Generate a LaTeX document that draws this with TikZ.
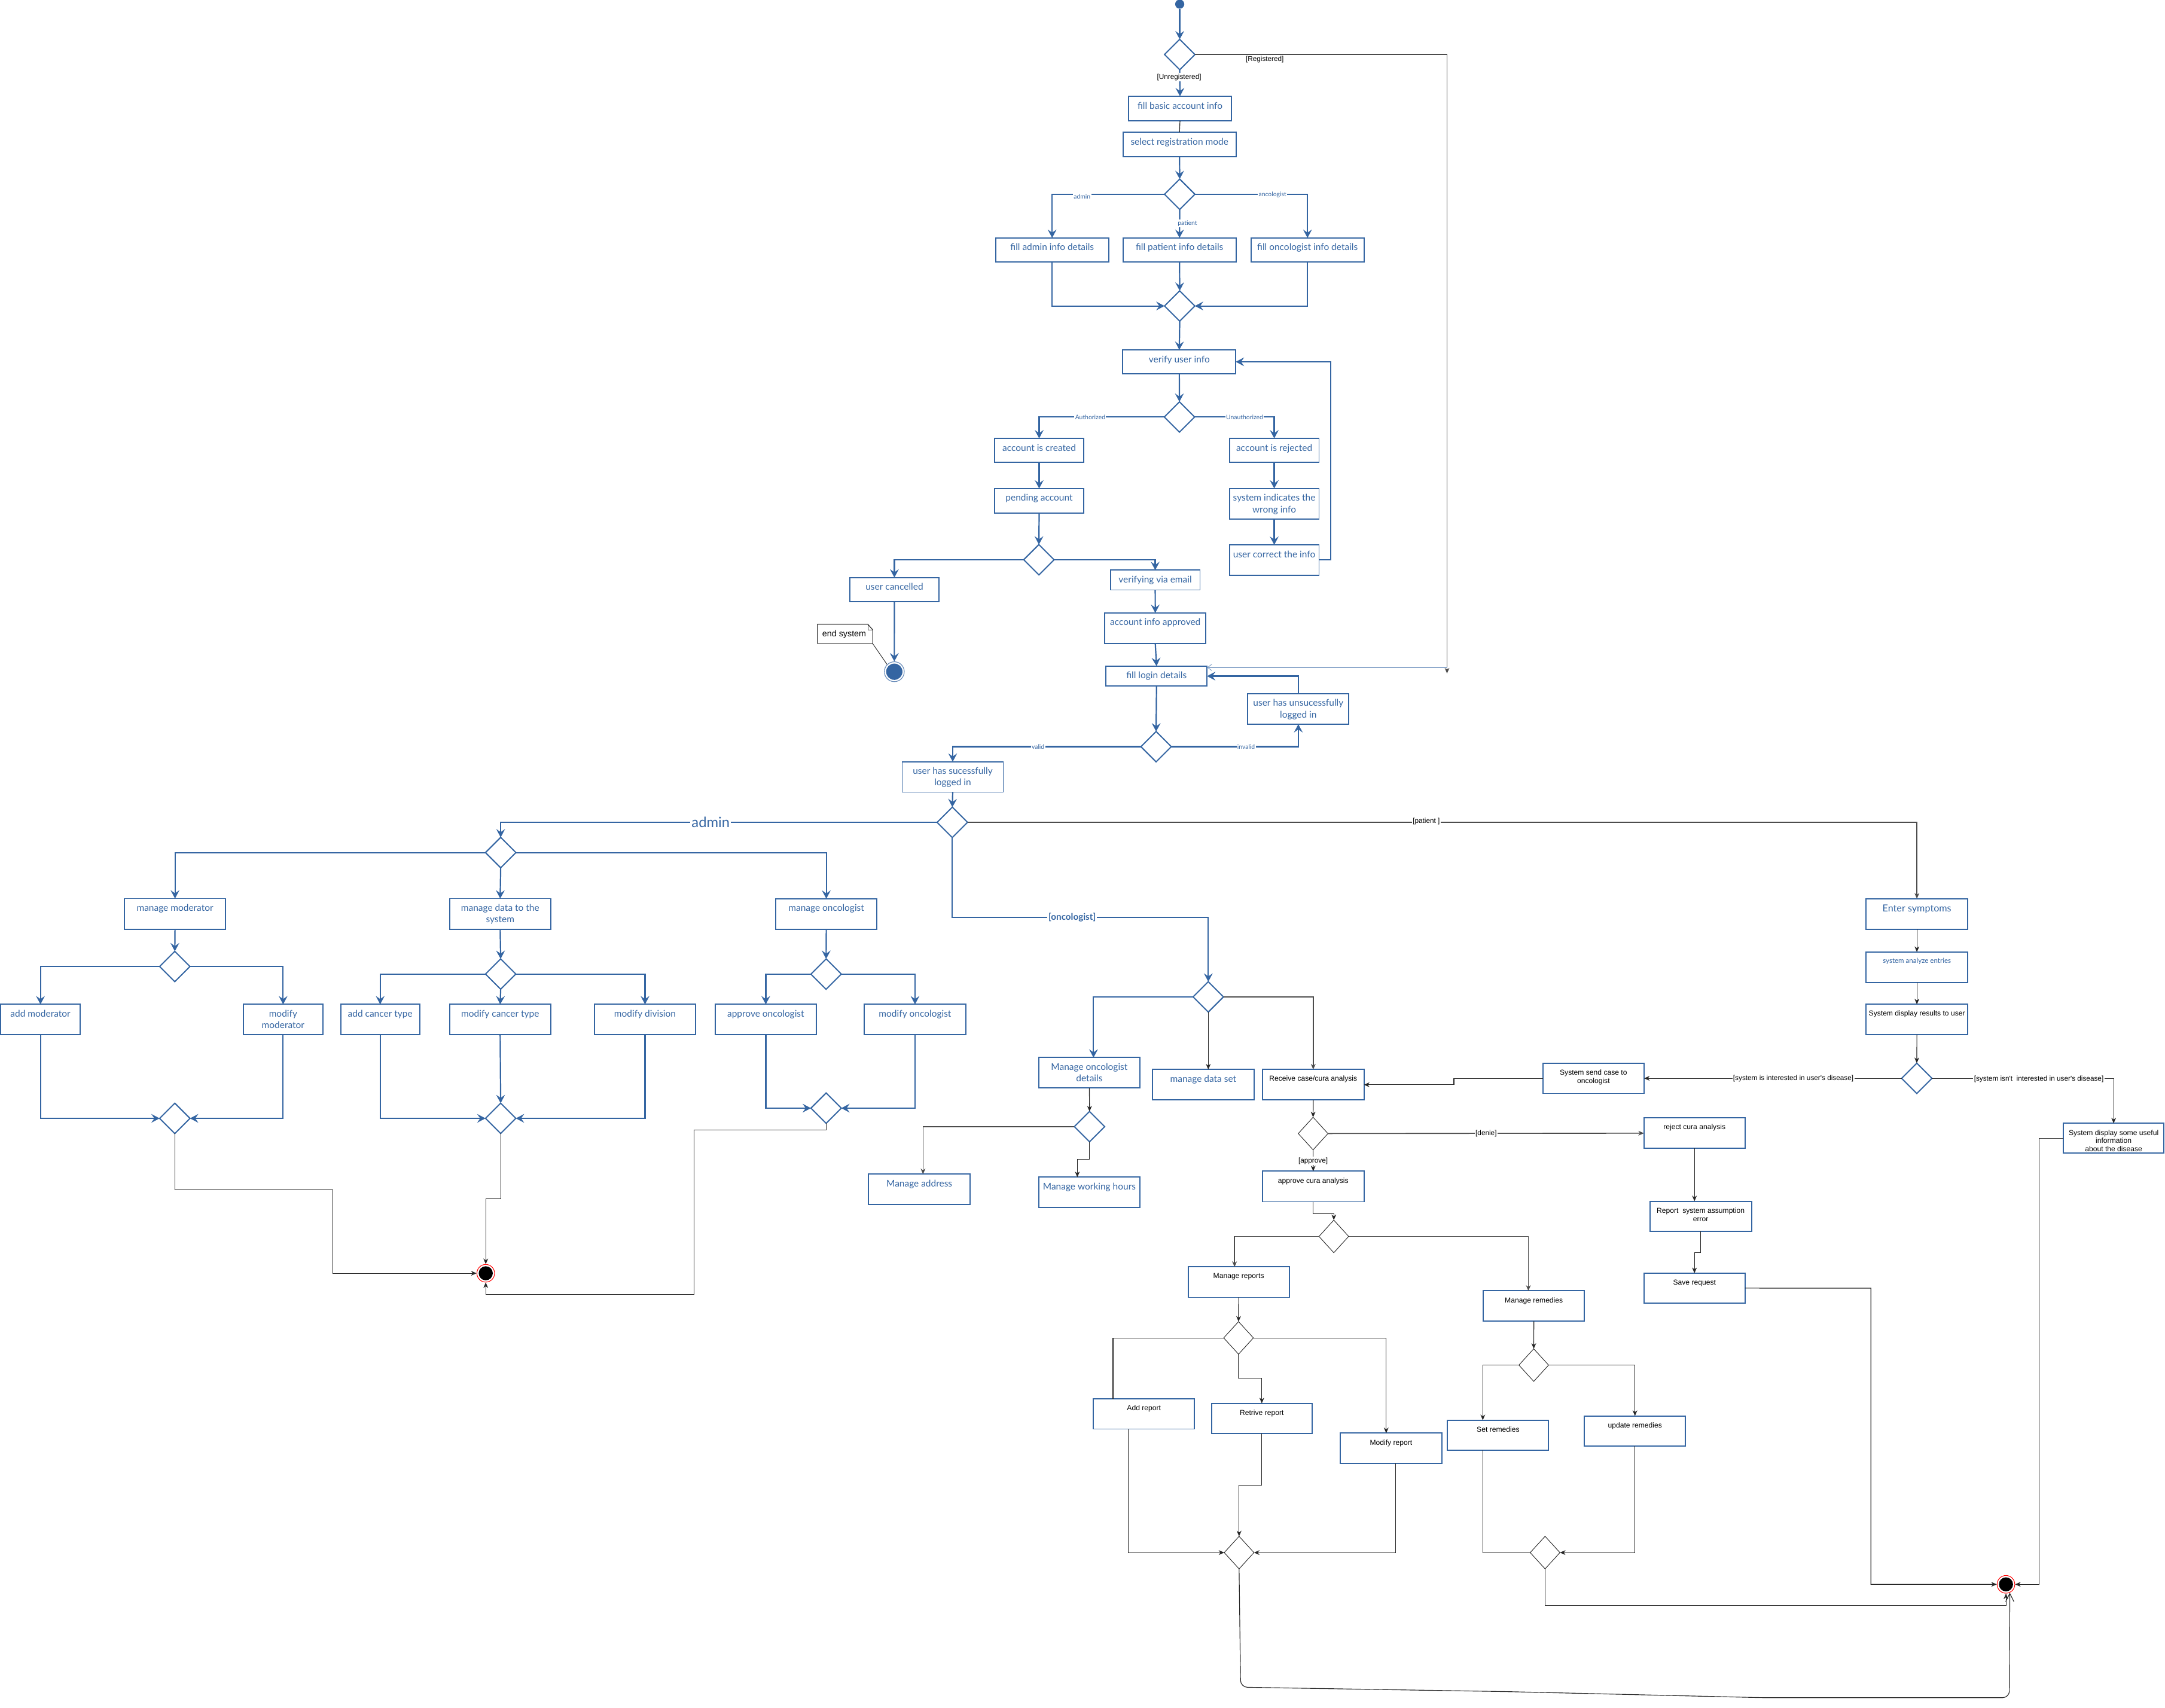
\documentclass[tikz,border=0pt]{standalone}
\usepackage{fontspec}
\newfontfamily\bluefont{Lato}
\newfontfamily\blackfont{Liberation Sans}
\usetikzlibrary{arrows.meta,shapes.geometric,calc}
\definecolor{ub}{RGB}{52,101,162}
\newcommand\mkbox[7][bt]{%
  \pgfmathsetmacro\bw{#5-#3}%
  \pgfmathsetmacro\bh{#6-#4}%
  \pgfmathsetmacro\bcx{(#3+#5)/2}%
  \pgfmathsetmacro\bcy{(#4+#6)/2}%
  \node[box,minimum width=\bw pt,minimum height=\bh pt] (#2) at (\bcx,\bcy) {};
  \node[#1,anchor=north] (#2-t) at (\bcx,#4) {#7};
}
\begin{document}
\begin{tikzpicture}[x=1pt,y=-1pt,
  box/.style={draw=ub,line width=0.85pt,fill=white,inner sep=0,outer sep=0},
  bt/.style={font=\bluefont\fontsize{6.7}{8.3}\selectfont,text=ub,align=center,inner sep=0,yshift=-4pt},
  kt/.style={font=\blackfont\fontsize{5.25}{6}\selectfont,text=black,align=center,inner sep=0,yshift=-4.5pt},
  dia/.style={diamond,draw=ub,line width=0.85pt,fill=white,minimum width=22pt,minimum height=22pt,inner sep=0,outer sep=0},
  kdia/.style={diamond,draw=black!85,line width=0.4pt,fill=white,minimum width=21.5pt,minimum height=23.6pt,inner sep=0,outer sep=0},
  bl/.style={draw=ub,line width=0.95pt},
  bla/.style={bl,-{Stealth[length=6pt,width=6.3pt,inset=2.2pt]}},
  kl/.style={draw=black!85,line width=0.5pt},
  kla/.style={kl,-{Stealth[length=4pt,width=3.4pt,inset=1.2pt]}},
  gl/.style={draw=black!70,line width=0.7pt},
  gla/.style={gl,-{Stealth[length=4pt,width=3.4pt,inset=1.2pt]}},
  lbs/.style={font=\bluefont\fontsize{4.5}{5}\selectfont,text=ub,fill=white,inner sep=0.6pt},
  lbk/.style={font=\blackfont\fontsize{5.1}{6}\selectfont,text=black,fill=white,inner sep=0.6pt},
  endk/.style={circle,draw=red,line width=0.45pt,fill=white,minimum size=12.8pt,inner sep=0}
]
\useasboundingbox (0,0) rectangle (1568,1237);
\fill[white] (0,0) rectangle (1568,1237);

% ---------- boxes ----------
\mkbox{fbasic}{817.4}{69.7}{891.8}{87.4}{fill basic account info}
\mkbox{fsel}{813.4}{95.8}{895.1}{113.4}{select registration mode}
\mkbox{fadmin}{721}{172.3}{803}{189.9}{fill admin info details}
\mkbox{fpat}{813.4}{172.3}{895.1}{189.9}{fill patient info details}
\mkbox{fonc}{906}{172.3}{987.9}{189.9}{fill oncologist info details}
\mkbox{verify}{813.2}{253.4}{895}{270.7}{verify user info}
\mkbox{accc}{720.2}{317.5}{785}{335}{account is created}
\mkbox{pend}{720.2}{353.8}{785}{371.5}{pending account}
\mkbox{accr}{890.4}{317.5}{955.3}{335}{account is rejected}
\mkbox{sysind}{890.4}{353.8}{955.3}{375.8}{system indicates the\\wrong info}
\mkbox{ucorr}{890.4}{394.6}{955.3}{416.5}{user correct the info}
\mkbox{ucanc}{615.4}{418.3}{680.1}{435.9}{user cancelled}
\mkbox{vemail}{804.2}{412.9}{869.1}{427.3}{verifying via email}
\mkbox{aapp}{800.1}{443.9}{873.3}{465.9}{account info approved}
\mkbox{flogin}{801}{482.4}{874.2}{497}{fill login details}
\mkbox{unsucc}{903.7}{502.4}{976.9}{524.5}{user has unsucessfully\\logged in}
\mkbox{succ}{653.4}{551.7}{726.6}{573.7}{user has sucessfully\\logged in}
\mkbox{mmod}{90.1}{650.8}{163.4}{673}{manage moderator}
\mkbox{mdata}{325.6}{650.8}{398.9}{673}{manage data to the\\system}
\mkbox{monc}{561.8}{650.9}{635.1}{673}{manage oncologist}
\mkbox{addmod}{0.6}{727.4}{58}{749.5}{add moderator}
\mkbox{modmod}{176.2}{727.4}{233.9}{749.5}{modify\\moderator}
\mkbox{addct}{246.7}{727.4}{304}{749.5}{add cancer type}
\mkbox{modct}{325.6}{727.4}{398.9}{749.5}{modify cancer type}
\mkbox{moddiv}{430.5}{727.4}{503.8}{749.5}{modify division}
\mkbox{apponc}{517.9}{727.4}{591.3}{749.5}{approve oncologist}
\mkbox{modonc}{626}{727.4}{699.4}{749.5}{modify oncologist}
\mkbox{moncd}{752.3}{766}{825.6}{788}{Manage oncologist\\details}
\mkbox{mds}{834.8}{774.6}{908.1}{796.7}{manage data set}
\mkbox{maddr}{629.1}{850.4}{702.5}{872.5}{Manage address}
\mkbox{mwh}{752.3}{852.6}{825.6}{874.7}{Manage working hours}
\mkbox[bt,font=\bluefont\fontsize{7}{8}\selectfont]{enter}{1351.6}{650.9}{1425}{673}{Enter symptoms}
\mkbox[bt,font=\bluefont\fontsize{5}{6}\selectfont]{analyze}{1351.6}{689.5}{1425}{711.5}{system analyze entries}
\mkbox[kt]{results}{1351.6}{727.4}{1425}{749.5}{System display results to user}
\mkbox[kt]{sendcase}{1117.4}{770}{1190.7}{792}{System send case to\\oncologist}
\mkbox[kt]{useful}{1494.3}{813.6}{1567.3}{835.2}{System display some useful\\information\\about the disease}
\mkbox[kt]{receive}{914.4}{774.6}{987.8}{796.7}{Receive case/cura analysis}
\mkbox[kt]{apcura}{914.4}{848.3}{987.8}{870.4}{approve cura analysis}
\mkbox[kt]{reject}{1190.6}{809.7}{1263.8}{831.8}{reject cura analysis}
\mkbox[kt]{report}{1194.9}{870}{1268.5}{891.9}{Report\ \ system assumption\\error}
\mkbox[kt]{save}{1190.6}{922.1}{1263.8}{943.8}{Save request}
\mkbox[kt]{mrep}{860.5}{917.6}{933.7}{939.7}{Manage reports}
\mkbox[kt]{mrem}{1074.3}{934.9}{1147.5}{957}{Manage remedies}
\mkbox[kt]{addrep}{791.9}{1013}{865.1}{1035}{Add report}
\mkbox[kt]{retr}{877.4}{1016.4}{950.3}{1038.2}{Retrive report}
\mkbox[kt]{modrep}{970.8}{1038}{1044.1}{1059.8}{Modify report}
\mkbox[kt]{setrem}{1048.4}{1028.6}{1121.6}{1050.4}{Set remedies}
\mkbox[kt]{updrem}{1147.5}{1025.5}{1220.7}{1047.3}{update remedies}

% ---------- decisions ----------
\node[dia] (d1) at (854.4,39.5) {};
\node[dia] (d2) at (854.4,140.7) {};
\node[dia] (d3) at (854.4,221.6) {};
\node[dia] (d4) at (854.2,302) {};
\node[dia] (d5) at (752.4,405.4) {};
\node[dia] (d6) at (837.3,540.8) {};
\node[dia] (d7) at (689.7,595.6) {};
\node[dia] (d8) at (362.6,617.5) {};
\node[dia] (d9) at (126.6,700) {};
\node[dia] (d10) at (126.6,810) {};
\node[dia] (d11) at (362.6,705.5) {};
\node[dia] (d12) at (362.6,810) {};
\node[dia] (d13) at (598.3,705.5) {};
\node[dia] (d14) at (598.3,802.6) {};
\node[dia] (d15) at (875.1,722) {};
\node[dia] (d16) at (789.1,816) {};
\node[dia] (d23) at (1388.2,781) {};
\node[kdia] (d17) at (951,821) {};
\node[kdia] (d18) at (966,895.5) {};
\node[kdia] (d19) at (897,969) {};
\node[kdia] (d20) at (1110.8,988.7) {};
\node[kdia] (d21) at (897.4,1124.5) {};
\node[kdia] (d22) at (1119,1124.5) {};

% ---------- start / end ----------
\node[circle,fill=ub,minimum size=6.6pt,inner sep=0] (start) at (854.4,3) {};
\node[circle,draw=ub!75,line width=0.5pt,fill=white,minimum size=14.4pt,inner sep=0] (e2) at (647.7,486.5) {};
\fill[ub] (e2.center) circle (5.9);
\node[endk] (e1) at (351.8,922.2) {};
\fill[black] (e1.center) circle (5.1);
\node[endk] (e3) at (1452.8,1147.5) {};
\fill[black] (e3.center) circle (5.1);

% note
\node[inner sep=0,minimum width=39.5pt,minimum height=13.6pt] (note) at (612.05,459.1) {};
\draw[kl,line width=0.5pt,fill=white] (note.north west) -- ([xshift=-3.5pt]note.north east) -- ([yshift=-4pt]note.north east) -- (note.south east) -- (note.south west) -- cycle;
\draw[kl,line width=0.4pt] ([xshift=-3.5pt]note.north east) -- ([xshift=-3.5pt,yshift=-4pt]note.north east) -- ([yshift=-4pt]note.north east);
\node[font=\blackfont\fontsize{6.2}{7}\selectfont,inner sep=0] (notet) at (611.4,459.4) {end system};
\draw[kl,line width=0.4pt] (note.south east) -- (e2.north west);

% ---------- connectors: registration ----------
\coordinate (regend) at (1048,487.8);
\coordinate (regc) at (1048,483.4);
\draw[bla] (start) -- (d1.north);
\draw[gla] (d1.east) -| (regend);
\draw[draw=ub!55,line width=0.5pt,-{Straight Barb[length=3pt,width=4.5pt]}] (regc) -- (flogin.east |- regc);
\draw[bla] (d1.south) -- (fbasic.north);
\draw[kl] (fbasic.south) -- (fsel.north);
\draw[bla] (fsel.south) -- (d2.north);
\draw[bla] (d2.west) -| (fadmin.north);
\draw[bla] (d2.east) -| (fonc.north);
\draw[bla] (d2.south) -- (fpat.north);
\draw[bla] (fadmin.south) |- (d3.west);
\draw[bla] (fonc.south) |- (d3.east);
\draw[bla] (fpat.south) -- (d3.north);
\draw[bla] (d3.south) -- (verify.north);
\draw[bla] (verify.south) -- (d4.north);
\draw[bla] (d4.west) -| (accc.north);
\draw[bla] (d4.east) -| (accr.north);
\draw[bla] (accc.south) -- (pend.north);
\draw[bla] (pend.south) -- (d5.north);
\draw[bla] (accr.south) -- (sysind.north);
\draw[bla] (sysind.south) -- (ucorr.north);
\draw[bla] (ucorr.east) -- ++(8.3,0) |- (verify.east);
\draw[bla] (d5.west) -| (ucanc.north);
\draw[bla] (d5.east) -| (vemail.north);
\draw[bla] (ucanc.south) -- (e2.north);
\draw[bla] (vemail.south) -- (aapp.north);
\draw[bla] (aapp.south) -- (flogin.north);
\draw[bla] (flogin.south) -- (d6.north);
\draw[bla] (d6.west) -| (succ.north);
\draw[bla] (d6.east) -| (unsucc.south);
\draw[bla] (unsucc.north) |- (flogin.east);
\draw[bla] (succ.south) -- (d7.north);

% ---------- admin ----------
\draw[bla] (d7.west) -| (d8.north);
\draw[bla] (d8.west) -| (mmod.north);
\draw[bla] (d8.east) -| (monc.north);
\draw[bla] (d8.south) -- (mdata.north);
\draw[bla] (mmod.south) -- (d9.north);
\draw[bla] (d9.west) -| (addmod.north);
\draw[bla] (d9.east) -| (modmod.north);
\draw[bla] (addmod.south) |- (d10.west);
\draw[bla] (modmod.south) |- (d10.east);
\draw[kla] (d10.south) |- (241.1,861.6) |- (e1.west);
\draw[bla] (mdata.south) -- (d11.north);
\draw[bla] (d11.west) -| (addct.north);
\draw[bla] (d11.east) -| (moddiv.north);
\draw[bla] (d11.south) -- (modct.north);
\draw[bla] (addct.south) |- (d12.west);
\draw[bla] (moddiv.south) |- (d12.east);
\draw[bla] (modct.south) -- (d12.north);
\draw[kla] (d12.south) -- ++(0,47.3) -| (e1.north);
\draw[bla] (monc.south) -- (d13.north);
\draw[bla] (d13.west) -| (apponc.north);
\draw[bla] (d13.east) -| (modonc.north);
\draw[bla] (apponc.south) |- (d14.west);
\draw[bla] (modonc.south) |- (d14.east);
\draw[kla] (d14.south) -- ++(0,4.7) -| (502.6,937.7) -| (e1.south);

% ---------- oncologist ----------
\draw[bla] (d7.south) -- ++(0,58) -| (d15.north);
\draw[bla] (d15.west) -| ([xshift=3pt]moncd.north);
\draw[kla] (d15.south) -- (d15.south |- mds.north);
\draw[gla] (d15.east) -| (receive.north);
\draw[kla] (moncd.south) -- (d16.north);
\draw[gla] (d16.west) -| ([xshift=2.7pt]maddr.north);
\draw[kla] (d16.south) -- ++(0,12.8) -| ([xshift=-8.7pt]mwh.north);
\draw[kla] (receive.south) -- (d17.north);
\draw[gla] (d17.east) -- (reject.west);
\draw[kla] (d17.south) -- (apcura.north);
\draw[kla] (apcura.south) -- ++(0,8.6) -| (d18.north);
\draw[gla] (d18.west) -| ([xshift=-3pt]mrep.north);
\draw[gla] (d18.east) -| ([xshift=-4pt]mrem.north);
\draw[kla] (mrep.south) -- (d19.north);
\draw[kl] (d19.west) -| ([xshift=-22.4pt]addrep.north);
\draw[kla] (d19.south) -- ++(0,17.4) -| (retr.north);
\draw[kla] (d19.east) -| ([xshift=-3.5pt]modrep.north);
\draw[kla] ([xshift=-11.4pt]addrep.south) |- (d21.west);
\draw[kla] (retr.south) -- ++(0,37.6) -| (d21.north);
\draw[kla] ([xshift=3.3pt]modrep.south) |- (d21.east);
\draw[kla] (mrem.south) -- (d20.north);
\draw[kla] (d20.west) -| ([xshift=-11.1pt]setrem.north);
\draw[kla] (d20.east) -| (updrem.north);
\draw[kl] ([xshift=-11pt]setrem.south) |- (d22.west);
\draw[kla] (updrem.south) |- (d22.east);
\draw[kla] (d22.south) -- ++(0,26.5) -| (e3.south);
\draw[kla] (reject.south) -- (reject.south |- report.north);
\draw[kla] (report.south) -- ++(0,15.4) -| (save.north);
\draw[kla] (save.east) -- (1355,933) |- (e3.west);
\draw[kl,rounded corners=5pt,-{Straight Barb[length=6pt,width=6pt]}] (d21.south) -- (898.5,1222) -- (1091.7,1225.2) -- (1277.5,1229.6) -- (1455.3,1229.6) -- (e3.-65);

% ---------- patient ----------
\draw[gla] (d7.east) -| (enter.north);
\draw[kla] (enter.south) -- (analyze.north);
\draw[kla] (analyze.south) -- (results.north);
\draw[kla] (results.south) -- (d23.north);
\draw[kla] (d23.west) -- (sendcase.east);
\draw[kla] (sendcase.west) -- (1053,781) |- (receive.east);
\draw[kla] (d23.east) -| (useful.north);
\draw[kla] (useful.west) -- (1476.7,824.4) |- (e3.east);

% ---------- labels ----------
\node[lbk] (lunreg) at (854,56) {[Unregistered]};
\node[lbk,fill=none] (lreg) at (916,43) {[Registered]};
\node[lbs] (ladm) at (783.7,142.3) {admin};
\node[lbs] (lancol) at (921.6,141.2) {ancologist};
\node[lbs] (lpat) at (860,161.8) {patient};
\node[lbs] (lauth) at (789.6,302.2) {Authorized};
\node[lbs] (lunauth) at (901.4,302.2) {Unauthorized};
\node[lbs] (lvalid) at (751.8,541) {valid};
\node[lbs] (linvalid) at (902.5,541) {invalid};
\node[font=\bluefont\fontsize{10.3}{12}\selectfont,text=ub,fill=white,inner sep=1pt] (ladmin) at (514.7,595.7) {admin};
\node[lbk] (lpatient) at (1033,594.8) {[patient ]};
\node[font=\bluefont\bfseries\fontsize{6.6}{8}\selectfont,text=ub,fill=white,inner sep=0.8pt] (lonc) at (776.5,664.5) {[oncologist]};
\node[lbk] (lapprove) at (951,840.8) {[approve]};
\node[lbk] (ldenie) at (1076.3,820.9) {[denie]};
\node[lbk] (lint) at (1298.8,781) {[system is interested in user's disease]};
\node[lbk] (lnint) at (1476.6,781.5) {[system isn't\ \ interested in user's disease]};
\end{tikzpicture}
\end{document}
